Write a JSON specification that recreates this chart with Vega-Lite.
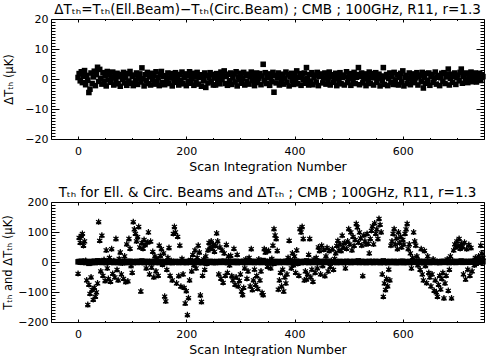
{
"$schema": "https://vega.github.io/schema/vega-lite/v6.json",
"padding": {"left": 2, "top": 2, "right": 0, "bottom": 0},
"background": "white",
"config": {
 "font": "DejaVu Sans",
 "view": {"stroke": null},
 "axis": {"grid": false, "domainColor": "black", "domainWidth": 1, "tickColor": "black", "tickWidth": 1, "labelColor": "black", "titleColor": "black", "labelFont": "DejaVu Sans", "titleFont": "DejaVu Sans", "labelFontSize": 11, "titleFontSize": 11.5, "titleFontWeight": "normal", "labelOverlap": false, "labelBound": false, "labelFlush": false},
 "title": {"font": "DejaVu Sans", "fontSize": 13.5, "fontWeight": "normal", "color": "black", "anchor": "middle", "offset": -3}
},
"datasets": {"scan": [
{"n":0,"d":0.5,"t":-38},{"n":2,"d":1.8,"t":82},{"n":4,"d":-0.6,"t":65},{"n":6,"d":2.4,"t":88},{"n":8,"d":-1.2,"t":95},{"n":10,"d":0.9,"t":55},{"n":12,"d":2.8,"t":70},{"n":14,"d":-1.9,"t":5},{"n":16,"d":1.2,"t":-60},{"n":18,"d":-0.4,"t":-142},
{"n":20,"d":-4.5,"t":-75},{"n":22,"d":-3.4,"t":-105},{"n":24,"d":2.0,"t":-50},{"n":26,"d":-1.5,"t":-92},{"n":28,"d":0.7,"t":-125},{"n":30,"d":2.6,"t":-85},{"n":32,"d":-2.2,"t":-115},{"n":34,"d":1.4,"t":-100},{"n":36,"d":3.9,"t":-70},{"n":38,"d":-0.8,"t":134},
{"n":40,"d":3.2,"t":72},{"n":42,"d":0.2,"t":-30},{"n":44,"d":-1.7,"t":89},{"n":46,"d":2.1,"t":-45},{"n":48,"d":-0.9,"t":8},{"n":50,"d":1.0,"t":-62},{"n":52,"d":-2.3,"t":40},{"n":54,"d":2.5,"t":-20},{"n":56,"d":-0.3,"t":-55},{"n":58,"d":1.6,"t":15},
{"n":60,"d":-1.1,"t":-65},{"n":62,"d":0.4,"t":44},{"n":64,"d":2.3,"t":-38},{"n":66,"d":-2.0,"t":4},{"n":68,"d":1.1,"t":-50},{"n":70,"d":-0.5,"t":78},{"n":72,"d":1.9,"t":-25},{"n":74,"d":-1.6,"t":-60},{"n":76,"d":0.8,"t":12},{"n":78,"d":-2.4,"t":33},
{"n":80,"d":1.5,"t":-40},{"n":82,"d":-0.2,"t":-3},{"n":84,"d":2.2,"t":-55},{"n":86,"d":-1.3,"t":20},{"n":88,"d":0.6,"t":-66},{"n":90,"d":-2.1,"t":60},{"n":92,"d":1.8,"t":-63},{"n":94,"d":-0.7,"t":78},{"n":96,"d":2.5,"t":45},{"n":98,"d":-1.4,"t":-12},
{"n":100,"d":0.9,"t":-35},{"n":102,"d":-2.2,"t":134},{"n":104,"d":1.3,"t":110},{"n":106,"d":-0.4,"t":95},{"n":108,"d":2.0,"t":70},{"n":110,"d":-1.8,"t":84},{"n":112,"d":0.3,"t":118},{"n":114,"d":1.7,"t":50},{"n":116,"d":-1.0,"t":-97},{"n":118,"d":3.7,"t":65},
{"n":120,"d":0.1,"t":45},{"n":122,"d":-2.3,"t":75},{"n":124,"d":1.4,"t":58},{"n":126,"d":-0.6,"t":-20},{"n":128,"d":2.2,"t":66},{"n":130,"d":-1.5,"t":100},{"n":132,"d":0.7,"t":-40},{"n":134,"d":-2.0,"t":69},{"n":136,"d":1.9,"t":-17},{"n":138,"d":-0.3,"t":35},
{"n":140,"d":1.2,"t":-50},{"n":142,"d":-1.7,"t":20},{"n":144,"d":2.4,"t":-30},{"n":146,"d":-0.9,"t":10},{"n":148,"d":0.5,"t":-45},{"n":150,"d":-2.2,"t":56},{"n":152,"d":1.6,"t":22},{"n":154,"d":2.5,"t":44},{"n":156,"d":-1.2,"t":-8},{"n":158,"d":0.8,"t":30},
{"n":160,"d":-1.9,"t":-114},{"n":162,"d":1.1,"t":-130},{"n":164,"d":-0.4,"t":-25},{"n":166,"d":2.0,"t":15},{"n":168,"d":-1.5,"t":48},{"n":170,"d":0.3,"t":-45},{"n":172,"d":1.8,"t":5},{"n":174,"d":-2.3,"t":-60},{"n":176,"d":0.9,"t":95},{"n":178,"d":-0.7,"t":118},
{"n":180,"d":2.1,"t":100},{"n":182,"d":-1.1,"t":-70},{"n":184,"d":0.6,"t":85},{"n":186,"d":-2.0,"t":-46},{"n":188,"d":1.5,"t":56},{"n":190,"d":-0.5,"t":-81},{"n":192,"d":2.3,"t":12},{"n":194,"d":-1.6,"t":-40},{"n":196,"d":0.4,"t":-85},{"n":198,"d":1.7,"t":-137},
{"n":200,"d":-2.2,"t":-96},{"n":202,"d":1.0,"t":-176},{"n":204,"d":-0.8,"t":-119},{"n":206,"d":2.4,"t":-60},{"n":208,"d":-1.4,"t":8},{"n":210,"d":0.2,"t":-30},{"n":212,"d":1.9,"t":25},{"n":214,"d":-2.1,"t":-10},{"n":216,"d":0.7,"t":40},{"n":218,"d":-1.0,"t":-20},
{"n":220,"d":2.2,"t":15},{"n":222,"d":-1.7,"t":56},{"n":224,"d":0.5,"t":33},{"n":226,"d":1.4,"t":-110},{"n":228,"d":-2.4,"t":-132},{"n":230,"d":0.9,"t":-45},{"n":232,"d":-0.6,"t":10},{"n":234,"d":2.0,"t":-25},{"n":236,"d":-2.8,"t":20},{"n":238,"d":1.2,"t":-5},
{"n":240,"d":-1.3,"t":40},{"n":242,"d":0.6,"t":65},{"n":244,"d":2.1,"t":50},{"n":246,"d":-0.9,"t":70},{"n":248,"d":1.5,"t":45},{"n":250,"d":-2.0,"t":60},{"n":252,"d":0.3,"t":35},{"n":254,"d":-2.0,"t":55},{"n":256,"d":1.8,"t":97},{"n":258,"d":-0.4,"t":70},
{"n":260,"d":1.0,"t":-40},{"n":262,"d":-1.6,"t":50},{"n":264,"d":2.3,"t":-55},{"n":266,"d":-0.2,"t":40},{"n":268,"d":1.3,"t":-68},{"n":270,"d":2.7,"t":30},{"n":272,"d":-1.5,"t":-45},{"n":274,"d":0.8,"t":58},{"n":276,"d":-2.1,"t":-35},{"n":278,"d":1.6,"t":20},
{"n":280,"d":-0.6,"t":-10},{"n":282,"d":2.0,"t":22},{"n":284,"d":-1.8,"t":-46},{"n":286,"d":0.4,"t":-60},{"n":288,"d":1.7,"t":45},{"n":290,"d":-1.0,"t":-75},{"n":292,"d":2.4,"t":-50},{"n":294,"d":-2.3,"t":25},{"n":296,"d":0.7,"t":-80},{"n":298,"d":-0.3,"t":-62},
{"n":300,"d":1.9,"t":-40},{"n":302,"d":-1.4,"t":-97},{"n":304,"d":0.2,"t":-109},{"n":306,"d":2.2,"t":-85},{"n":308,"d":-2.0,"t":-20},{"n":310,"d":1.1,"t":10},{"n":312,"d":-0.8,"t":-55},{"n":314,"d":1.6,"t":-30},{"n":316,"d":-1.7,"t":15},{"n":318,"d":0.9,"t":-80},
{"n":320,"d":2.3,"t":44},{"n":322,"d":-0.5,"t":-92},{"n":324,"d":1.4,"t":-60},{"n":326,"d":-2.2,"t":-24},{"n":328,"d":0.6,"t":-75},{"n":330,"d":2.0,"t":-45},{"n":332,"d":-1.2,"t":-88},{"n":334,"d":0.3,"t":10},{"n":336,"d":1.8,"t":-60},{"n":338,"d":-1.9,"t":-30},
{"n":340,"d":1.0,"t":-102},{"n":342,"d":4.9,"t":-109},{"n":344,"d":-0.6,"t":44},{"n":346,"d":2.1,"t":33},{"n":348,"d":-1.5,"t":40},{"n":350,"d":0.4,"t":-15},{"n":352,"d":1.7,"t":38},{"n":354,"d":-2.1,"t":5},{"n":356,"d":0.8,"t":-20},{"n":358,"d":-0.9,"t":12},
{"n":360,"d":2.2,"t":56},{"n":362,"d":-4.4,"t":111},{"n":364,"d":1.2,"t":90},{"n":366,"d":-1.3,"t":78},{"n":368,"d":0.5,"t":38},{"n":370,"d":2.0,"t":-91},{"n":372,"d":-2.0,"t":-60},{"n":374,"d":0.9,"t":-35},{"n":376,"d":-0.5,"t":-80},{"n":378,"d":1.6,"t":-24},
{"n":380,"d":-1.7,"t":-97},{"n":382,"d":0.3,"t":-50},{"n":384,"d":2.3,"t":-70},{"n":386,"d":-1.1,"t":-40},{"n":388,"d":1.4,"t":15},{"n":390,"d":-2.3,"t":72},{"n":392,"d":0.7,"t":8},{"n":394,"d":1.9,"t":-20},{"n":396,"d":-0.4,"t":30},{"n":398,"d":-1.8,"t":-10},
{"n":400,"d":1.2,"t":20},{"n":402,"d":-0.6,"t":-35},{"n":404,"d":2.7,"t":40},{"n":406,"d":-1.6,"t":-5},{"n":408,"d":0.5,"t":-45},{"n":410,"d":1.8,"t":111},{"n":412,"d":-2.1,"t":100},{"n":414,"d":0.9,"t":118},{"n":416,"d":-0.3,"t":78},{"n":418,"d":2.0,"t":-60},
{"n":420,"d":-1.4,"t":-30},{"n":422,"d":3.8,"t":-57},{"n":424,"d":0.2,"t":-40},{"n":426,"d":-2.0,"t":25},{"n":428,"d":1.5,"t":78},{"n":430,"d":-0.7,"t":-50},{"n":432,"d":2.1,"t":-24},{"n":434,"d":-1.9,"t":-65},{"n":436,"d":0.6,"t":10},{"n":438,"d":1.3,"t":-35},
{"n":440,"d":-1.0,"t":15},{"n":442,"d":2.2,"t":-20},{"n":444,"d":-2.2,"t":50},{"n":446,"d":0.8,"t":38},{"n":448,"d":1.6,"t":-40},{"n":450,"d":1.6,"t":56},{"n":452,"d":-1.3,"t":-12},{"n":454,"d":0.3,"t":42},{"n":456,"d":2.0,"t":-46},{"n":458,"d":-1.7,"t":20},
{"n":460,"d":1.1,"t":48},{"n":462,"d":-0.5,"t":-30},{"n":464,"d":2.3,"t":38},{"n":466,"d":-2.0,"t":-15},{"n":468,"d":0.7,"t":5},{"n":470,"d":1.4,"t":44},{"n":472,"d":-1.1,"t":-25},{"n":474,"d":0.2,"t":12},{"n":476,"d":1.9,"t":30},{"n":478,"d":-2.2,"t":55},
{"n":480,"d":0.9,"t":72},{"n":482,"d":-0.8,"t":40},{"n":484,"d":2.1,"t":60},{"n":486,"d":-1.6,"t":38},{"n":488,"d":0.5,"t":89},{"n":490,"d":1.3,"t":50},{"n":492,"d":-2.0,"t":65},{"n":494,"d":0.7,"t":-20},{"n":496,"d":2.4,"t":45},{"n":498,"d":-1.2,"t":70},
{"n":500,"d":0.3,"t":111},{"n":502,"d":1.8,"t":60},{"n":504,"d":-2.1,"t":100},{"n":506,"d":1.0,"t":40},{"n":508,"d":-0.5,"t":85},{"n":510,"d":2.2,"t":55},{"n":512,"d":-1.5,"t":75},{"n":514,"d":0.6,"t":128},{"n":516,"d":1.5,"t":117},{"n":518,"d":3.8,"t":66},
{"n":520,"d":-1.9,"t":100},{"n":522,"d":0.8,"t":80},{"n":524,"d":2.0,"t":56},{"n":526,"d":-1.3,"t":-46},{"n":528,"d":0.1,"t":90},{"n":530,"d":1.7,"t":70},{"n":532,"d":-2.2,"t":60},{"n":534,"d":0.9,"t":95},{"n":536,"d":-0.7,"t":62},{"n":538,"d":2.3,"t":30},
{"n":540,"d":-1.5,"t":78},{"n":542,"d":0.4,"t":105},{"n":544,"d":1.8,"t":120},{"n":546,"d":-2.0,"t":60},{"n":548,"d":0.6,"t":130},{"n":550,"d":2.1,"t":95},{"n":552,"d":-1.1,"t":110},{"n":554,"d":0.3,"t":78},{"n":556,"d":1.6,"t":145},{"n":558,"d":-2.3,"t":125},
{"n":560,"d":1.0,"t":100},{"n":562,"d":-0.6,"t":-40},{"n":564,"d":3.8,"t":-115},{"n":566,"d":-1.8,"t":-70},{"n":568,"d":0.7,"t":-92},{"n":570,"d":1.5,"t":-55},{"n":572,"d":-2.2,"t":-80},{"n":574,"d":0.2,"t":-24},{"n":576,"d":2.0,"t":-60},{"n":578,"d":-1.2,"t":56},
{"n":580,"d":0.8,"t":70},{"n":582,"d":-1.8,"t":95},{"n":584,"d":2.2,"t":111},{"n":586,"d":-0.3,"t":60},{"n":588,"d":-1.8,"t":80},{"n":590,"d":1.4,"t":44},{"n":592,"d":-2.0,"t":100},{"n":594,"d":0.5,"t":65},{"n":596,"d":1.9,"t":85},{"n":598,"d":-1.0,"t":50},
{"n":600,"d":2.7,"t":75},{"n":602,"d":-2.3,"t":60},{"n":604,"d":0.6,"t":95},{"n":606,"d":1.2,"t":110},{"n":608,"d":-1.5,"t":128},{"n":610,"d":0.2,"t":44},{"n":612,"d":2.0,"t":60},{"n":614,"d":-1.9,"t":30},{"n":616,"d":0.9,"t":-20},{"n":618,"d":-0.6,"t":15},
{"n":620,"d":1.7,"t":100},{"n":622,"d":-1.2,"t":70},{"n":624,"d":0.4,"t":56},{"n":626,"d":2.1,"t":20},{"n":628,"d":-2.0,"t":-10},{"n":630,"d":0.8,"t":5},{"n":632,"d":1.3,"t":-25},{"n":634,"d":-0.9,"t":44},{"n":636,"d":2.2,"t":-40},{"n":638,"d":-3.0,"t":-60},
{"n":640,"d":0.5,"t":38},{"n":642,"d":-1.4,"t":-12},{"n":644,"d":1.8,"t":-69},{"n":646,"d":-0.4,"t":20},{"n":648,"d":2.0,"t":-35},{"n":650,"d":-2.1,"t":-50},{"n":652,"d":0.9,"t":-80},{"n":654,"d":1.5,"t":-40},{"n":656,"d":-1.1,"t":10},{"n":658,"d":0.3,"t":-95},
{"n":660,"d":2.3,"t":-60},{"n":662,"d":-1.7,"t":-100},{"n":664,"d":0.6,"t":-115},{"n":666,"d":1.2,"t":-75},{"n":668,"d":-2.2,"t":-45},{"n":670,"d":0.4,"t":-90},{"n":672,"d":1.9,"t":-55},{"n":674,"d":-0.8,"t":-35},{"n":676,"d":2.1,"t":-120},{"n":678,"d":-1.5,"t":-70},
{"n":680,"d":0.7,"t":-45},{"n":682,"d":1.4,"t":10},{"n":684,"d":3.3,"t":-95},{"n":686,"d":-2.0,"t":-25},{"n":688,"d":0.2,"t":20},{"n":690,"d":1.6,"t":-120},{"n":692,"d":-1.1,"t":5},{"n":694,"d":0.9,"t":40},{"n":696,"d":2.0,"t":60},{"n":698,"d":-1.8,"t":50},
{"n":700,"d":0.5,"t":70},{"n":702,"d":1.3,"t":55},{"n":704,"d":-0.6,"t":78},{"n":706,"d":2.2,"t":45},{"n":708,"d":3.3,"t":62},{"n":710,"d":-1.4,"t":50},{"n":712,"d":0.8,"t":-40},{"n":714,"d":1.7,"t":66},{"n":716,"d":-0.3,"t":-57},{"n":718,"d":2.0,"t":44},
{"n":720,"d":-1.2,"t":-24},{"n":722,"d":1.1,"t":58},{"n":724,"d":0.2,"t":-45},{"n":726,"d":2.3,"t":48},{"n":728,"d":-0.9,"t":-30},{"n":730,"d":1.5,"t":5},{"n":732,"d":0.4,"t":-10},{"n":734,"d":2.0,"t":15},{"n":736,"d":-1.0,"t":-5},{"n":738,"d":1.2,"t":8},
{"n":740,"d":0.6,"t":20},{"n":742,"d":1.9,"t":10},{"n":744,"d":-0.5,"t":56},{"n":746,"d":1.4,"t":30},{"n":748,"d":0.8,"t":15}
]},
"spacing": 63,
"bounds": "flush",
"vconcat": [
{
 "title": "ΔTₜₕ=Tₜₕ(Ell.Beam)−Tₜₕ(Circ.Beam) ; CMB ; 100GHz, R11, r=1.3",
 "width": 433, "height": 120,
 "data": {"name": "scan"},
 "resolve": {"axis": {"x": "independent", "y": "independent"}},
 "layer": [
  {"mark": {"type": "point", "shape": "square", "filled": true, "size": 31, "color": "black", "opacity": 1},
   "encoding": {
    "x": {"field": "n", "type": "quantitative", "scale": {"domain": [-50, 750], "nice": false, "zero": false},
      "axis": {"orient": "bottom", "title": "Scan Integration Number", "titleFontSize": 12.5, "values": [0,50,100,150,200,250,300,350,400,450,500,550,600,650,700], "labelExpr": "datum.value % 200 === 0 ? datum.label : ''", "tickSize": {"condition": {"test": "datum.value % 200 === 0", "value": -3}, "value": -1.5}, "labelPadding": 9, "titlePadding": 3}},
    "y": {"field": "d", "type": "quantitative", "scale": {"domain": [-20, 20], "nice": false, "zero": false},
      "axis": {"orient": "left", "title": "ΔTₜₕ (μK)", "values": [-20,-19,-18,-17,-16,-15,-14,-13,-12,-11,-10,-9,-8,-7,-6,-5,-4,-3,-2,-1,0,1,2,3,4,5,6,7,8,9,10,11,12,13,14,15,16,17,18,19,20], "labelExpr": "datum.value % 10 === 0 ? datum.label : ''", "tickSize": {"condition": {"test": "datum.value % 10 === 0", "value": -8}, "value": -4}, "labelPadding": 11, "titlePadding": 10}}
   }},
  {"mark": {"type": "point", "opacity": 0},
   "encoding": {
    "x": {"field": "n", "type": "quantitative", "scale": {"domain": [-50, 750], "nice": false, "zero": false},
      "axis": {"orient": "top", "title": null, "labels": false, "minExtent": 0, "maxExtent": 0, "values": [0,50,100,150,200,250,300,350,400,450,500,550,600,650,700], "tickSize": {"condition": {"test": "datum.value % 200 === 0", "value": -3}, "value": -1.5}}},
    "y": {"field": "d", "type": "quantitative", "scale": {"domain": [-20, 20], "nice": false, "zero": false},
      "axis": {"orient": "right", "title": null, "labels": false, "minExtent": 0, "maxExtent": 0, "values": [-20,-19,-18,-17,-16,-15,-14,-13,-12,-11,-10,-9,-8,-7,-6,-5,-4,-3,-2,-1,0,1,2,3,4,5,6,7,8,9,10,11,12,13,14,15,16,17,18,19,20], "tickSize": {"condition": {"test": "datum.value % 10 === 0", "value": -8}, "value": -4}}}
   }}
 ]
},
{
 "title": "Tₜₕ for Ell. & Circ. Beams and ΔTₜₕ ; CMB ; 100GHz, R11, r=1.3",
 "width": 433, "height": 120,
 "data": {"name": "scan"},
 "resolve": {"axis": {"x": "independent", "y": "independent"}},
 "layer": [
  {"mark": {"type": "point", "shape": "square", "filled": true, "size": 30, "color": "black", "opacity": 1},
   "encoding": {
    "x": {"field": "n", "type": "quantitative", "scale": {"domain": [-50, 750], "nice": false, "zero": false},
      "axis": {"orient": "bottom", "title": "Scan Integration Number", "titleFontSize": 12.5, "values": [0,50,100,150,200,250,300,350,400,450,500,550,600,650,700], "labelExpr": "datum.value % 200 === 0 ? datum.label : ''", "tickSize": {"condition": {"test": "datum.value % 200 === 0", "value": -3}, "value": -1.5}, "labelPadding": 9, "titlePadding": 3}},
    "y": {"field": "d", "type": "quantitative", "scale": {"domain": [-200, 200], "nice": false, "zero": false},
      "axis": {"orient": "left", "title": "Tₜₕ and ΔTₜₕ (μK)", "values": [-200,-190,-180,-170,-160,-150,-140,-130,-120,-110,-100,-90,-80,-70,-60,-50,-40,-30,-20,-10,0,10,20,30,40,50,60,70,80,90,100,110,120,130,140,150,160,170,180,190,200], "labelExpr": "datum.value % 100 === 0 ? datum.label : ''", "tickSize": {"condition": {"test": "datum.value % 100 === 0", "value": -8}, "value": -4}, "labelPadding": 11, "titlePadding": 4}}
   }},
  {"mark": {"type": "point", "shape": "triangle-up", "filled": true, "size": 34, "color": "black", "opacity": 1},
   "encoding": {
    "x": {"field": "n", "type": "quantitative", "scale": {"domain": [-50, 750], "nice": false, "zero": false}, "axis": null},
    "y": {"field": "t", "type": "quantitative", "scale": {"domain": [-200, 200], "nice": false, "zero": false}, "axis": null}
   }},
  {"mark": {"type": "point", "shape": "M0,-1L0,1M-0.87,-0.5L0.87,0.5M-0.87,0.5L0.87,-0.5", "filled": false, "size": 36, "color": "black", "strokeWidth": 1.2, "opacity": 1},
   "encoding": {
    "x": {"field": "n", "type": "quantitative", "scale": {"domain": [-50, 750], "nice": false, "zero": false}, "axis": null},
    "y": {"field": "t", "type": "quantitative", "scale": {"domain": [-200, 200], "nice": false, "zero": false}, "axis": null}
   }},
  {"mark": {"type": "point", "opacity": 0},
   "encoding": {
    "x": {"field": "n", "type": "quantitative", "scale": {"domain": [-50, 750], "nice": false, "zero": false},
      "axis": {"orient": "top", "title": null, "labels": false, "minExtent": 0, "maxExtent": 0, "values": [0,50,100,150,200,250,300,350,400,450,500,550,600,650,700], "tickSize": {"condition": {"test": "datum.value % 200 === 0", "value": -3}, "value": -1.5}}},
    "y": {"field": "d", "type": "quantitative", "scale": {"domain": [-200, 200], "nice": false, "zero": false},
      "axis": {"orient": "right", "title": null, "labels": false, "minExtent": 0, "maxExtent": 0, "values": [-200,-190,-180,-170,-160,-150,-140,-130,-120,-110,-100,-90,-80,-70,-60,-50,-40,-30,-20,-10,0,10,20,30,40,50,60,70,80,90,100,110,120,130,140,150,160,170,180,190,200], "tickSize": {"condition": {"test": "datum.value % 100 === 0", "value": -8}, "value": -4}}}
   }}
 ]
}
]
}
